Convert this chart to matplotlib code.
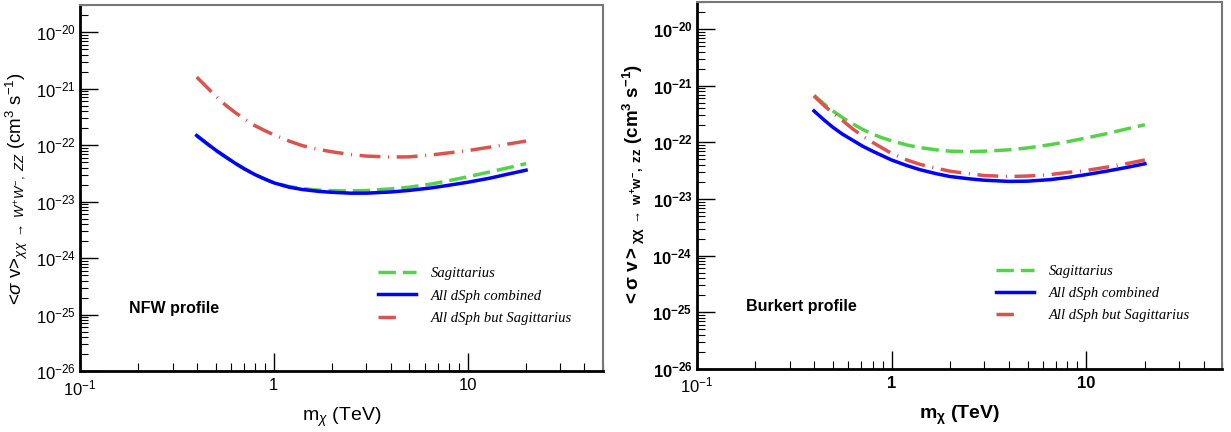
import matplotlib
matplotlib.use("Agg")
import matplotlib.pyplot as plt
from matplotlib.ticker import FixedLocator, FuncFormatter, NullFormatter
from matplotlib.lines import Line2D
import math

plt.rcParams['mathtext.fontset'] = 'custom'
plt.rcParams['mathtext.rm'] = 'Liberation Sans'
plt.rcParams['mathtext.it'] = 'Liberation Sans:italic'
plt.rcParams['mathtext.bf'] = 'Liberation Sans:bold'
plt.rcParams['font.family'] = ['Liberation Sans', 'DejaVu Sans']

# ---- data: dark matter mass (TeV) and <sigma v> upper limits (cm^3 s^-1) ----
mass = [0.40, 0.45, 0.50, 0.56, 0.63, 0.71, 0.80, 0.90, 1.0, 1.2, 1.4, 1.7,
        2.0, 2.5, 3.0, 4.0, 5.0, 6.5, 8.0, 10, 13, 16, 20]

# NFW profile
nfw_sgr = [1.45e-22, 1.06e-22, 8.1e-23, 6.2e-23, 4.75e-23, 3.72e-23, 3.0e-23, 2.5e-23,
           2.17e-23, 1.85e-23, 1.7e-23, 1.6e-23, 1.56e-23, 1.55e-23, 1.57e-23, 1.68e-23,
           1.8e-23, 2.05e-23, 2.35e-23, 2.75e-23, 3.35e-23, 3.95e-23, 4.7e-23]
nfw_all = [1.48e-22, 1.08e-22, 8.2e-23, 6.3e-23, 4.8e-23, 3.75e-23, 3.0e-23, 2.5e-23,
           2.15e-23, 1.8e-23, 1.64e-23, 1.52e-23, 1.46e-23, 1.41e-23, 1.41e-23, 1.48e-23,
           1.58e-23, 1.75e-23, 1.95e-23, 2.2e-23, 2.6e-23, 3.05e-23, 3.6e-23]
nfw_but = [1.6e-21, 1.07e-21, 7.4e-22, 5.2e-22, 3.8e-22, 2.85e-22, 2.2e-22, 1.8e-22,
           1.52e-22, 1.18e-22, 9.8e-23, 8.4e-23, 7.6e-23, 6.8e-23, 6.4e-23, 6.15e-23,
           6.2e-23, 6.7e-23, 7.3e-23, 8.0e-23, 9.2e-23, 1.04e-22, 1.18e-22]

# Burkert profile
bur_sgr = [6.8e-22, 4.8e-22, 3.6e-22, 2.75e-22, 2.15e-22, 1.7e-22, 1.4e-22, 1.2e-22,
           1.07e-22, 9.0e-23, 8.1e-23, 7.4e-23, 7.0e-23, 6.9e-23, 7.0e-23, 7.4e-23,
           8.0e-23, 9.1e-23, 1.03e-22, 1.2e-22, 1.45e-22, 1.72e-22, 2.05e-22]
bur_all = [3.6e-22, 2.5e-22, 1.85e-22, 1.4e-22, 1.1e-22, 8.6e-23, 7.0e-23, 5.8e-23,
           4.9e-23, 3.9e-23, 3.3e-23, 2.8e-23, 2.5e-23, 2.28e-23, 2.15e-23, 2.05e-23,
           2.07e-23, 2.2e-23, 2.4e-23, 2.7e-23, 3.15e-23, 3.6e-23, 4.2e-23]
bur_but = [6.6e-22, 4.5e-22, 3.3e-22, 2.45e-22, 1.75e-22, 1.3e-22, 1.0e-22, 7.9e-23,
           6.4e-23, 4.9e-23, 4.1e-23, 3.5e-23, 3.1e-23, 2.8e-23, 2.6e-23, 2.5e-23,
           2.55e-23, 2.7e-23, 2.95e-23, 3.2e-23, 3.7e-23, 4.2e-23, 4.9e-23]

labels = ["Sagittarius", "All dSph combined", "All dSph but Sagittarius"]
profile_names = ["NFW profile", "Burkert profile"]

xmajor = [0.1, 1, 10]
ymajor = [1e-26, 1e-25, 1e-24, 1e-23, 1e-22, 1e-21, 1e-20]

green = '#55d24a'
blue = '#0000ff'
red = '#d9534f'

fig = plt.figure(figsize=(12.31, 4.32), dpi=100)
ax1 = fig.add_axes([0.065, 0.141, 0.425, 0.847])
ax2 = fig.add_axes([0.566, 0.146, 0.427, 0.849])


def xfmt(v, pos):
    if abs(v - 0.1) < 1e-9:
        return r'$10^{-1}$'
    if abs(v - 1) < 1e-9:
        return '1'
    return '%d' % round(v)


def make_yfmt(bold):
    def f(v, pos):
        e = int(round(math.log10(v)))
        if bold:
            return r'$\mathbf{10^{%d}}$' % e
        return r'$10^{%d}$' % e
    return f


def style(ax, bold):
    ax.set_xscale('log')
    ax.set_yscale('log')
    ax.set_xlim(0.1, 50)
    ax.set_ylim(1e-26, 3e-20)
    xminor = [k * 10.0 ** d for d in (-1, 0, 1) for k in range(2, 10) if k * 10.0 ** d <= 50]
    yminor = [k * 10.0 ** d for d in range(-26, -19) for k in range(2, 10) if k * 10.0 ** d <= 3e-20]
    ax.xaxis.set_major_locator(FixedLocator(xmajor))
    ax.xaxis.set_minor_locator(FixedLocator(xminor))
    ax.yaxis.set_major_locator(FixedLocator(ymajor))
    ax.yaxis.set_minor_locator(FixedLocator(yminor))
    ax.xaxis.set_major_formatter(FuncFormatter(xfmt))
    ax.xaxis.set_minor_formatter(NullFormatter())
    ax.yaxis.set_major_formatter(FuncFormatter(make_yfmt(bold)))
    ax.yaxis.set_minor_formatter(NullFormatter())
    ax.tick_params(which='both', direction='in', top=False, right=False)
    ax.tick_params(which='major', length=13, width=1.0, labelsize=12, pad=3)
    ax.tick_params(which='minor', length=6, width=0.8)
    ax.tick_params(axis='x', which='major', pad=5)
    for s in ['left', 'bottom']:
        ax.spines[s].set_linewidth(2.0)
        ax.spines[s].set_color('black')
    for s in ['top', 'right']:
        ax.spines[s].set_linewidth(1.5)
        ax.spines[s].set_color('#777777')
    if bold:
        for t in ax.get_xticklabels() + ax.get_yticklabels():
            t.set_fontweight('bold')


def draw(ax, sgr, allc, but, name, bold):
    style(ax, bold)
    ax.plot(mass, sgr, color=green, lw=2.5, linestyle=(0, (5, 2)))
    ax.plot(mass, allc, color=blue, lw=2.5, linestyle='-')
    ax.plot(mass, but, color=red, lw=2.5, linestyle=(0, (6, 2.2, 0.3, 2.2)))
    ax.text(0.093, 0.17, name, transform=ax.transAxes, fontsize=11.5,
            fontweight='bold', va='center', ha='left')
    handles = [Line2D([], [], color=green, lw=2.5, linestyle=(0, (5, 2))),
               Line2D([], [], color=blue, lw=2.5),
               Line2D([], [], color=red, lw=2.5, linestyle=(0, (5, 8)))]
    ax.legend(handles, labels, loc='upper left', bbox_to_anchor=(0.545, 0.32),
              frameon=False, handlelength=2.6, handletextpad=1.0,
              labelspacing=0.62,
              prop={'family': 'Liberation Serif', 'style': 'italic', 'size': 10.5})


draw(ax1, nfw_sgr, nfw_all, nfw_but, profile_names[0], False)
draw(ax2, bur_sgr, bur_all, bur_but, profile_names[1], True)

ax1.set_xlabel(r'm$_{\chi}$ (TeV)', fontsize=14, labelpad=6)
ax1.set_ylabel(r'<$\sigma$ v>$_{\chi\chi\ \rightarrow\ W^{+}W^{-},\ ZZ}$ (cm$^{3}$ s$^{-1}$)',
               fontsize=13.5, labelpad=4)
ax2.set_xlabel(r'$\mathbf{m_{\chi}}$ $\mathbf{(TeV)}$', fontsize=14, labelpad=6)
ax2.set_ylabel(r'$\mathbf{<\sigma\ v>_{\chi\chi\ \rightarrow\ w^{+}w^{-},\ zz}\ (cm^{3}\ s^{-1})}$',
               fontsize=13.5, labelpad=4)

fig.savefig('out.png', dpi=100)
